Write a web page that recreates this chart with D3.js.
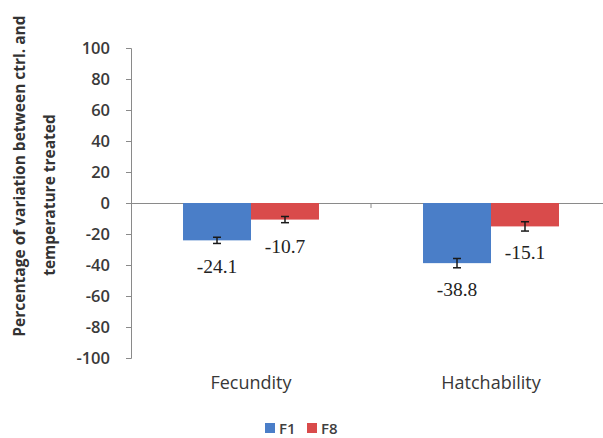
<!DOCTYPE html>
<html><head><meta charset="utf-8">
<script src="https://cdn.jsdelivr.net/npm/d3@7"></script>
<style>body{margin:0;background:#fff}svg{display:block}</style>
</head><body>
<svg id="c" width="603" height="438"></svg>
<script>
const categories = ["Fecundity", "Hatchability"];
const seriesNames = ["F1", "F8"];
const f1Values = [-24.1, -38.8];
const f8Values = [-10.7, -15.1];
const f1Errors = [2, 3];
const f8Errors = [2, 3];
const yTicks = [100, 80, 60, 40, 20, 0, -20, -40, -60, -80, -100];
const colors = ["#4A7EC8", "#D94B4B"];

const data = categories.map((c, i) => ({
  cat: c,
  vals: [
    {s: seriesNames[0], v: f1Values[i], e: f1Errors[i], k: 0},
    {s: seriesNames[1], v: f8Values[i], e: f8Errors[i], k: 1}
  ]
}));

const svg = d3.select("#c");
const y = d3.scaleLinear().domain([-100, 100]).range([358, 48]);
const x0 = d3.scaleBand().domain(categories).range([131, 611]).padding(0);
const x1 = d3.scaleBand().domain(seriesNames).range([0, x0.bandwidth()]).paddingInner(0).paddingOuter(0.765);

// y axis
const yAxis = d3.axisLeft(y).tickValues(yTicks).tickSize(5).tickPadding(16).tickFormat(d => String(d));
const gy = svg.append("g").attr("transform", "translate(131,0)").call(yAxis);
gy.select(".domain").attr("stroke", "#8a8a8a").attr("d", "M-5,48.5H0.5V358.5H-5");
gy.selectAll(".tick line").attr("stroke", "#8a8a8a");
gy.selectAll(".tick text").attr("fill", "#3a3a3a").style("font-family", "'Open Sans', sans-serif")
  .style("font-size", "16.5px").style("font-weight", "600");

// x axis at zero
const xAxis = d3.axisBottom(x0).tickSize(0).tickFormat("");
const gx = svg.append("g").attr("transform", `translate(0,${y(0)})`).call(xAxis);
gx.select(".domain").attr("stroke", "#8a8a8a").attr("d", `M131,0.5H603`);
gx.selectAll(".tick").remove();
gx.selectAll(".sep").data(categories.slice(1)).enter().append("line")
  .attr("x1", d => x0(d)).attr("x2", d => x0(d)).attr("y1", 0).attr("y2", 5).attr("stroke", "#8a8a8a");

// category labels
svg.selectAll(".cl").data(categories).enter().append("text")
  .attr("x", d => x0(d) + x0.bandwidth() / 2).attr("y", 389)
  .attr("text-anchor", "middle").attr("fill", "#383838")
  .style("font-family", "'Open Sans', sans-serif").style("font-size", "18px")
  .text(d => d);

// bars
const g = svg.selectAll(".cat").data(data).enter().append("g")
  .attr("transform", d => `translate(${x0(d.cat)},0)`);
g.selectAll("rect").data(d => d.vals).enter().append("rect")
  .attr("x", d => x1(d.s)).attr("width", x1.bandwidth())
  .attr("y", d => y(Math.max(0, d.v))).attr("height", d => Math.abs(y(d.v) - y(0)))
  .attr("fill", d => colors[d.k]);

// error bars
const eb = g.selectAll(".eb").data(d => d.vals).enter().append("g")
  .attr("stroke", "#1a1a1a").attr("stroke-width", 1.5);
eb.append("line").attr("x1", d => x1(d.s) + x1.bandwidth() / 2).attr("x2", d => x1(d.s) + x1.bandwidth() / 2)
  .attr("y1", d => y(d.v - d.e)).attr("y2", d => y(d.v + d.e));
eb.append("line").attr("x1", d => x1(d.s) + x1.bandwidth() / 2 - 4).attr("x2", d => x1(d.s) + x1.bandwidth() / 2 + 4)
  .attr("y1", d => y(d.v - d.e)).attr("y2", d => y(d.v - d.e));
eb.append("line").attr("x1", d => x1(d.s) + x1.bandwidth() / 2 - 4).attr("x2", d => x1(d.s) + x1.bandwidth() / 2 + 4)
  .attr("y1", d => y(d.v + d.e)).attr("y2", d => y(d.v + d.e));

// value labels
g.selectAll(".vl").data(d => d.vals).enter().append("text")
  .attr("x", d => x1(d.s) + x1.bandwidth() / 2).attr("y", d => y(d.v) + 33)
  .attr("text-anchor", "middle").attr("fill", "#222")
  .style("font-family", "'Liberation Serif', 'Times New Roman', serif").style("font-size", "19.5px")
  .text(d => d.v.toFixed(1));

// y title
const yt = svg.append("text").attr("transform", "rotate(-90)")
  .attr("text-anchor", "middle").attr("fill", "#333")
  .style("font-family", "'Open Sans', sans-serif").style("font-size", "15.5px").style("font-weight", "700");
yt.append("tspan").attr("x", -176).attr("y", 25).text("Percentage of variation between ctrl. and");
yt.append("tspan").attr("x", -195).attr("y", 55).text("temperature treated");

// legend
const lg = svg.append("g").attr("transform", "translate(265,423)");
const li = lg.selectAll("g").data(seriesNames).enter().append("g")
  .attr("transform", (d, i) => `translate(${i * 42},0)`);
li.append("rect").attr("width", 10).attr("height", 10).attr("fill", (d, i) => colors[i]);
li.append("text").attr("x", 14).attr("y", 10.5).attr("fill", "#404040")
  .style("font-family", "'Open Sans', sans-serif").style("font-size", "15px").style("font-weight", "600").text(d => d);
</script>
</body></html>
